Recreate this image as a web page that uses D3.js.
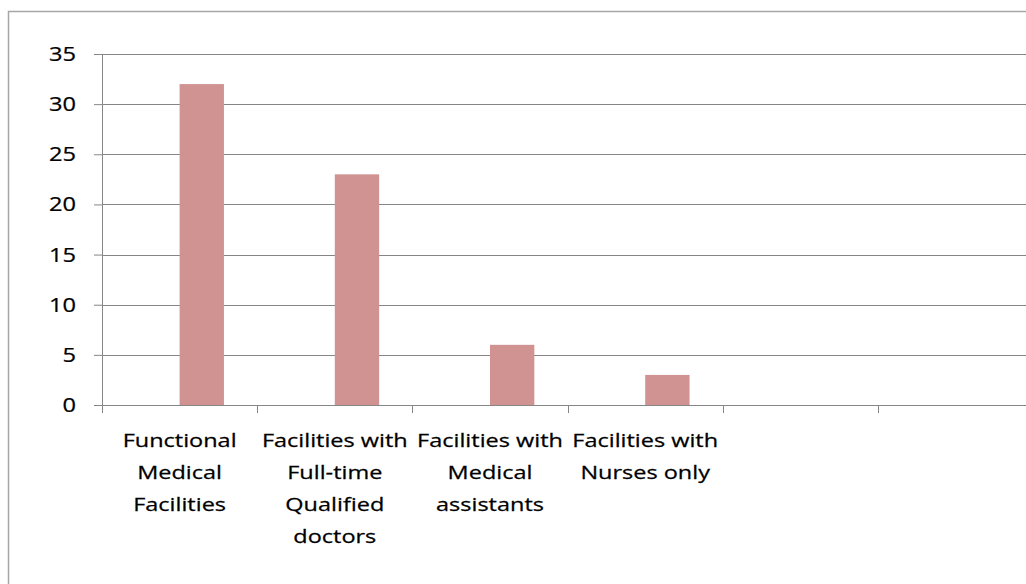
<!DOCTYPE html>
<html>
<head>
<meta charset="utf-8">
<script src="https://cdn.jsdelivr.net/npm/d3@7"></script>
<style>
  body { margin: 0; background: #fff; }
  text { font-family: "Open Sans", sans-serif; fill: #000; stroke: #000; stroke-width: 0.25px; }
</style>
</head>
<body>
<div id="chart"></div>
<script>
// categories (two empty slots at the end, like the original sheet)
var categories = [
  ["Functional", "Medical", "Facilities"],
  ["Facilities with", "Full-time", "Qualified", "doctors"],
  ["Facilities with", "Medical", "assistants"],
  ["Facilities with", "Nurses only"],
  [],
  []
];
var seriesNames = ["Series1", "Series2"];
var series1 = [null, null, null, null, null, null];
var series2 = [32, 23, 6, 3, null, null];
var yTicks = [0, 5, 10, 15, 20, 25, 30, 35];

var W = 1026, H = 584;
var margin = {top: 54, left: 102, bottom: 179};
var plotH = H - margin.top - margin.bottom; // 351
var slot = 155.2;
var plotW = slot * categories.length;

var svg = d3.select("#chart").append("svg")
    .attr("width", W)
    .attr("height", H);

// outer chart border (runs off the right and bottom edges)
svg.append("rect")
    .attr("x", 8.5).attr("y", 11.5)
    .attr("width", W + 20).attr("height", H + 20)
    .attr("fill", "none")
    .attr("stroke", "#a6a6a6")
    .attr("stroke-width", 1.5);

var g = svg.append("g")
    .attr("transform", "translate(" + margin.left + "," + margin.top + ")");

var x0 = d3.scaleBand()
    .domain(d3.range(categories.length))
    .range([0, plotW]);

var x1 = d3.scaleBand()
    .domain(seriesNames)
    .range([0, x0.bandwidth()])
    .paddingInner(0)
    .paddingOuter(0.75);

var y = d3.scaleLinear()
    .domain([0, 35])
    .range([plotH, 0]);

// y tick marks
var yAxis = g.append("g")
    .call(d3.axisLeft(y).tickValues(yTicks).tickSize(8).tickFormat(""));
yAxis.select(".domain").remove();
yAxis.selectAll(".tick line").attr("stroke", "#868686");

// gridlines
g.append("g")
  .selectAll("line")
  .data(yTicks)
  .enter().append("line")
    .attr("x1", 0)
    .attr("x2", W)
    .attr("y1", function(d) { return Math.round(y(d)) + 0.5; })
    .attr("y2", function(d) { return Math.round(y(d)) + 0.5; })
    .attr("stroke", "#868686")
    .attr("stroke-width", 1);

// y tick labels
g.append("g")
  .selectAll("text")
  .data(yTicks)
  .enter().append("text")
    .attr("transform", function(d) { return "translate(-26," + (y(d) + 7) + ") scale(1.18,1)"; })
    .attr("text-anchor", "end")
    .style("font-size", "20px")
    .text(function(d) { return d; });

// vertical axis line
g.append("line")
    .attr("x1", 0.5).attr("x2", 0.5)
    .attr("y1", 0).attr("y2", plotH + 8)
    .attr("stroke", "#868686");

// category tick marks
g.append("g")
  .selectAll("line")
  .data(d3.range(categories.length + 1))
  .enter().append("line")
    .attr("x1", function(d) { return Math.round(d * x0.step()) + 0.5; })
    .attr("x2", function(d) { return Math.round(d * x0.step()) + 0.5; })
    .attr("y1", plotH)
    .attr("y2", plotH + 8)
    .attr("stroke", "#868686");

// bars
var barData = [];
categories.forEach(function(c, i) {
  [series1, series2].forEach(function(s, j) {
    if (s[i] != null) barData.push({cat: i, name: seriesNames[j], v: s[i]});
  });
});

g.selectAll(".bar")
    .data(barData)
  .enter().append("rect")
    .attr("class", "bar")
    .attr("x", function(d) { return x0(d.cat) + x1(d.name); })
    .attr("y", function(d) { return y(d.v); })
    .attr("width", x1.bandwidth())
    .attr("height", function(d) { return plotH - y(d.v); })
    .attr("fill", "#d19292");

// category labels
var labels = g.append("g")
  .selectAll("g")
  .data(categories)
  .enter().append("g")
    .attr("transform", function(d, i) { return "translate(" + (x0(i) + x0.bandwidth() / 2) + "," + (plotH + 42) + ")"; });

labels.selectAll("text")
    .data(function(d) { return d; })
  .enter().append("text")
    .attr("transform", function(d, i) { return "translate(0," + (i * 32) + ") scale(1.27,1)"; })
    .attr("text-anchor", "middle")
    .style("font-size", "18.5px")
    .text(function(d) { return d; });
</script>
</body>
</html>
